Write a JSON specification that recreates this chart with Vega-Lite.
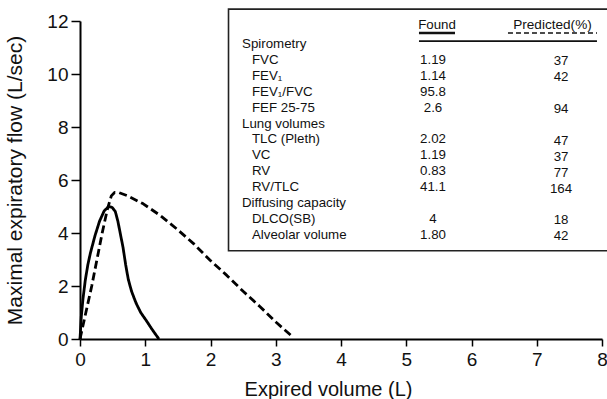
{
  "$schema": "https://vega.github.io/schema/vega-lite/v6.json",
  "width": 522,
  "height": 318,
  "autosize": {"type": "none"},
  "padding": {"left": 80, "top": 21, "right": 5, "bottom": 60},
  "background": "white",
  "config": {"view": {"stroke": null}, "font": "Liberation Sans", "text": {"font": "Liberation Sans"}},
  "datasets": {
    "curves": [
      {"series": "Found", "order": 0, "volume": 0, "flow": 0},
      {"series": "Found", "order": 1, "volume": 0.02, "flow": 0.85},
      {"series": "Found", "order": 2, "volume": 0.045, "flow": 1.5},
      {"series": "Found", "order": 3, "volume": 0.08, "flow": 2.2},
      {"series": "Found", "order": 4, "volume": 0.12, "flow": 2.8},
      {"series": "Found", "order": 5, "volume": 0.16, "flow": 3.25},
      {"series": "Found", "order": 6, "volume": 0.23, "flow": 3.9},
      {"series": "Found", "order": 7, "volume": 0.3, "flow": 4.45},
      {"series": "Found", "order": 8, "volume": 0.37, "flow": 4.83},
      {"series": "Found", "order": 9, "volume": 0.44, "flow": 5.0},
      {"series": "Found", "order": 10, "volume": 0.49, "flow": 4.97},
      {"series": "Found", "order": 11, "volume": 0.54, "flow": 4.82},
      {"series": "Found", "order": 12, "volume": 0.58, "flow": 4.45},
      {"series": "Found", "order": 13, "volume": 0.62, "flow": 3.95},
      {"series": "Found", "order": 14, "volume": 0.66, "flow": 3.45},
      {"series": "Found", "order": 15, "volume": 0.7, "flow": 2.8},
      {"series": "Found", "order": 16, "volume": 0.74, "flow": 2.25},
      {"series": "Found", "order": 17, "volume": 0.79, "flow": 1.8},
      {"series": "Found", "order": 18, "volume": 0.86, "flow": 1.35},
      {"series": "Found", "order": 19, "volume": 0.93, "flow": 1.0},
      {"series": "Found", "order": 20, "volume": 1.02, "flow": 0.68},
      {"series": "Found", "order": 21, "volume": 1.1, "flow": 0.38},
      {"series": "Found", "order": 22, "volume": 1.16, "flow": 0.17},
      {"series": "Found", "order": 23, "volume": 1.21, "flow": 0.0},
      {"series": "Predicted", "order": 0, "volume": 0, "flow": 0},
      {"series": "Predicted", "order": 1, "volume": 0.09, "flow": 1.0},
      {"series": "Predicted", "order": 2, "volume": 0.18, "flow": 2.0},
      {"series": "Predicted", "order": 3, "volume": 0.26, "flow": 3.0},
      {"series": "Predicted", "order": 4, "volume": 0.34, "flow": 4.0},
      {"series": "Predicted", "order": 5, "volume": 0.42, "flow": 4.9},
      {"series": "Predicted", "order": 6, "volume": 0.48, "flow": 5.4},
      {"series": "Predicted", "order": 7, "volume": 0.53, "flow": 5.53},
      {"series": "Predicted", "order": 8, "volume": 0.6, "flow": 5.52},
      {"series": "Predicted", "order": 9, "volume": 0.72, "flow": 5.41},
      {"series": "Predicted", "order": 10, "volume": 0.97, "flow": 5.1},
      {"series": "Predicted", "order": 11, "volume": 1.23, "flow": 4.66},
      {"series": "Predicted", "order": 12, "volume": 1.48, "flow": 4.16},
      {"series": "Predicted", "order": 13, "volume": 1.74, "flow": 3.6},
      {"series": "Predicted", "order": 14, "volume": 1.99, "flow": 2.98},
      {"series": "Predicted", "order": 15, "volume": 2.25, "flow": 2.4},
      {"series": "Predicted", "order": 16, "volume": 2.5, "flow": 1.8},
      {"series": "Predicted", "order": 17, "volume": 2.76, "flow": 1.22},
      {"series": "Predicted", "order": 18, "volume": 3.01, "flow": 0.62},
      {"series": "Predicted", "order": 19, "volume": 3.24, "flow": 0.12}
    ],
    "table": [
      {"row": 0, "label": "Spirometry", "group": true, "found": "", "pred": ""},
      {"row": 1, "label": "FVC", "group": false, "found": "1.19", "pred": "37"},
      {"row": 2, "label": "FEV₁", "group": false, "found": "1.14", "pred": "42"},
      {"row": 3, "label": "FEV₁/FVC", "group": false, "found": "95.8", "pred": ""},
      {"row": 4, "label": "FEF 25-75", "group": false, "found": "2.6", "pred": "94"},
      {"row": 5, "label": "Lung volumes", "group": true, "found": "", "pred": ""},
      {"row": 6, "label": "TLC (Pleth)", "group": false, "found": "2.02", "pred": "47"},
      {"row": 7, "label": "VC", "group": false, "found": "1.19", "pred": "37"},
      {"row": 8, "label": "RV", "group": false, "found": "0.83", "pred": "77"},
      {"row": 9, "label": "RV/TLC", "group": false, "found": "41.1", "pred": "164"},
      {"row": 10, "label": "Diffusing capacity", "group": true, "found": "", "pred": ""},
      {"row": 11, "label": "DLCO(SB)", "group": false, "found": "4", "pred": "18"},
      {"row": 12, "label": "Alveolar volume", "group": false, "found": "1.80", "pred": "42"}
    ]
  },
  "layer": [
    {
      "data": {"name": "curves"},
      "mark": {"type": "line", "color": "black", "strokeWidth": 2.8, "strokeCap": "butt", "strokeJoin": "round"},
      "encoding": {
        "x": {
          "field": "volume", "type": "quantitative",
          "scale": {"domain": [0, 8], "nice": false, "zero": false},
          "axis": {
            "title": "Expired volume (L)", "values": [0, 1, 2, 3, 4, 5, 6, 7, 8], "format": "d",
            "grid": false, "domainColor": "black", "domainWidth": 2, "tickColor": "black", "tickWidth": 1.5,
            "tickSize": 7, "labelFontSize": 19, "labelPadding": 4, "labelColor": "#111", "labelFont": "Liberation Sans",
            "labelFlush": false, "labelOverlap": false,
            "titleFontSize": 20, "titleFontWeight": "normal", "titleColor": "#111", "titleFont": "Liberation Sans",
            "titlePadding": 10, "titleX": 248
          }
        },
        "y": {
          "field": "flow", "type": "quantitative",
          "scale": {"domain": [0, 12], "nice": false},
          "axis": {
            "title": "Maximal expiratory flow (L/sec)", "values": [0, 2, 4, 6, 8, 10, 12], "format": "d",
            "grid": false, "domainColor": "black", "domainWidth": 2, "tickColor": "black", "tickWidth": 1.5,
            "tickSize": 9, "labelFontSize": 19, "labelPadding": 3, "labelColor": "#111", "labelFont": "Liberation Sans",
            "labelFlush": false, "labelOverlap": false,
            "titleFontSize": 21, "titleFontWeight": "normal", "titleColor": "#111", "titleFont": "Liberation Sans",
            "titlePadding": 21
          }
        },
        "strokeDash": {
          "field": "series", "type": "nominal",
          "scale": {"domain": ["Found", "Predicted"], "range": [[1, 0], [8, 4]]},
          "legend": null
        },
        "order": {"field": "order", "type": "quantitative"}
      }
    },
    {
      "data": {"name": "table"},
      "layer": [
        {
          "data": {"values": [{"box": "table"}]},
          "mark": {"type": "rect", "fill": "white", "stroke": "#222", "strokeWidth": 1.6},
          "encoding": {
            "x": {"datum": 2.276, "type": "quantitative"},
            "x2": {"datum": 8.3},
            "y": {"datum": -2.2, "type": "quantitative", "scale": {"domain": [-1.45, 18.55], "reverse": true, "nice": false, "zero": false}, "axis": null},
            "y2": {"datum": 13.0}
          }
        },
        {
          "data": {"values": [{"header": "Found"}]},
          "mark": {"type": "text", "fontSize": 13.3, "align": "center", "baseline": "middle", "color": "#111"},
          "encoding": {
            "x": {"datum": 5.471, "type": "quantitative"},
            "y": {"datum": -1.2, "type": "quantitative"},
            "text": {"field": "header"}
          }
        },
        {
          "data": {"values": [{"header": "Predicted(%)"}]},
          "mark": {"type": "text", "fontSize": 13.6, "align": "center", "baseline": "middle", "color": "#111"},
          "encoding": {
            "x": {"datum": 7.241, "type": "quantitative"},
            "y": {"datum": -1.2, "type": "quantitative"},
            "text": {"field": "header"}
          }
        },
        {
          "data": {"values": [{"line": "found"}]},
          "mark": {"type": "rule", "color": "#111", "strokeWidth": 2.5},
          "encoding": {
            "x": {"datum": 5.195, "type": "quantitative"},
            "x2": {"datum": 5.747},
            "y": {"datum": -0.69, "type": "quantitative"}
          }
        },
        {
          "data": {"values": [{"line": "pred"}]},
          "mark": {"type": "rule", "color": "#111", "strokeWidth": 1.5, "strokeDash": [5, 3]},
          "encoding": {
            "x": {"datum": 6.559, "type": "quantitative"},
            "x2": {"datum": 7.923},
            "y": {"datum": -0.69, "type": "quantitative"}
          }
        },
        {
          "data": {"values": [{"line": "rule"}]},
          "mark": {"type": "rule", "color": "#111", "strokeWidth": 1.8},
          "encoding": {
            "x": {"datum": 5.195, "type": "quantitative"},
            "x2": {"datum": 7.923},
            "y": {"datum": -0.19, "type": "quantitative"}
          }
        },
        {
          "transform": [{"filter": "datum.group"}],
          "mark": {"type": "text", "fontSize": 13.3, "align": "left", "baseline": "middle", "color": "#111"},
          "encoding": {
            "x": {"datum": 2.483, "type": "quantitative"},
            "y": {"field": "row", "type": "quantitative"},
            "text": {"field": "label"}
          }
        },
        {
          "transform": [{"filter": "!datum.group"}],
          "mark": {"type": "text", "fontSize": 13.3, "align": "left", "baseline": "middle", "color": "#111"},
          "encoding": {
            "x": {"datum": 2.636, "type": "quantitative"},
            "y": {"field": "row", "type": "quantitative"},
            "text": {"field": "label"}
          }
        },
        {
          "mark": {"type": "text", "fontSize": 13.3, "align": "center", "baseline": "middle", "color": "#111"},
          "encoding": {
            "x": {"datum": 5.41, "type": "quantitative"},
            "y": {"field": "row", "type": "quantitative"},
            "text": {"field": "found"}
          }
        },
        {
          "mark": {"type": "text", "fontSize": 13.3, "align": "center", "baseline": "middle", "color": "#111", "dy": 1.5},
          "encoding": {
            "x": {"datum": 7.372, "type": "quantitative"},
            "y": {"field": "row", "type": "quantitative"},
            "text": {"field": "pred"}
          }
        }
      ]
    }
  ],
  "resolve": {"scale": {"y": "independent", "strokeDash": "independent"}}
}
